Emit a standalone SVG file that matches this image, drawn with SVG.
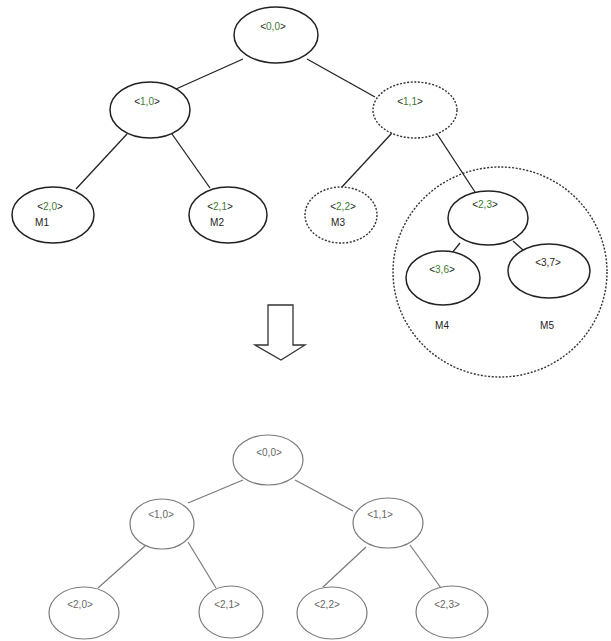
<svg xmlns="http://www.w3.org/2000/svg" width="611" height="641" viewBox="0 0 611 641">
<style>
.n{fill:#fff;stroke:#222;stroke-width:1.5}
.d{fill:#fff;stroke:#333;stroke-width:1.4;stroke-dasharray:2,1.6}
.g{fill:#fff;stroke:#7a7a7a;stroke-width:1.2}
.e{stroke:#222;stroke-width:1.3;fill:none}
.eg{stroke:#7a7a7a;stroke-width:1.2;fill:none}
.t{font-family:"Liberation Sans",Arial,sans-serif;font-size:10px;fill:#222;text-anchor:middle}
.tg{font-family:"Liberation Sans",Arial,sans-serif;font-size:10px;fill:#666;text-anchor:middle}
.c{fill:#3d7a2e}
</style>
<rect width="611" height="641" fill="#fff"/>
<g id="connectors">
<line class="e" x1="243" y1="59" x2="176" y2="89"/>
<line class="e" x1="307" y1="59" x2="375" y2="97"/>
<line class="e" x1="127" y1="134" x2="76" y2="189"/>
<line class="e" x1="172" y1="134" x2="210" y2="188"/>
<line class="e" x1="392" y1="133" x2="341" y2="188"/>
<line class="e" x1="437" y1="134" x2="475" y2="192"/>
<line class="e" x1="460" y1="243" x2="448" y2="258"/>
<line class="e" x1="513" y1="241" x2="523" y2="250"/>
<line class="eg" x1="243" y1="480" x2="188" y2="503"/>
<line class="eg" x1="295" y1="480" x2="353" y2="511"/>
<line class="eg" x1="145" y1="546" x2="98" y2="588"/>
<line class="eg" x1="188" y1="542" x2="216" y2="588"/>
<line class="eg" x1="366" y1="547" x2="323" y2="587"/>
<line class="eg" x1="410" y1="545" x2="441" y2="588"/>
</g>
<g id="group-m4-m5">
<ellipse class="d" cx="500" cy="272" rx="107" ry="105" fill="none" style="fill:none"/>
</g>
<g id="t00">
<ellipse class="n" cx="276" cy="35" rx="42" ry="28"/>
<text class="t" x="273" y="30">&lt;<tspan class="c">0,0</tspan>&gt;</text>
</g>
<g id="t10">
<ellipse class="n" cx="150" cy="110" rx="40" ry="28"/>
<text class="t" x="147" y="105">&lt;<tspan class="c">1,0</tspan>&gt;</text>
</g>
<g id="t11">
<ellipse class="d" cx="415" cy="110" rx="42" ry="28"/>
<text class="t" x="410" y="105">&lt;<tspan class="c">1,1</tspan>&gt;</text>
</g>
<g id="t20">
<ellipse class="n" cx="53" cy="215" rx="41" ry="28"/>
<text class="t" x="50" y="210">&lt;<tspan class="c">2,0</tspan>&gt;</text>
<text class="t" x="42" y="226">M1</text>
</g>
<g id="t21">
<ellipse class="n" cx="228" cy="215" rx="39" ry="28"/>
<text class="t" x="220" y="210">&lt;<tspan class="c">2,1</tspan>&gt;</text>
<text class="t" x="217" y="226">M2</text>
</g>
<g id="t22">
<ellipse class="d" cx="341" cy="215" rx="36" ry="28"/>
<text class="t" x="343" y="210">&lt;<tspan class="c">2,2</tspan>&gt;</text>
<text class="t" x="338" y="226">M3</text>
</g>
<g id="t23">
<ellipse class="n" cx="488" cy="218" rx="40" ry="27"/>
<text class="t" x="485" y="208">&lt;<tspan class="c">2,3</tspan>&gt;</text>
</g>
<g id="t36">
<ellipse class="n" cx="443" cy="278" rx="37" ry="27"/>
<text class="t" x="442" y="273">&lt;<tspan class="c">3,6</tspan>&gt;</text>
<text class="t" x="442" y="329">M4</text>
</g>
<g id="t37">
<ellipse class="n" cx="549" cy="271" rx="41" ry="27"/>
<text class="t" x="548" y="266">&lt;3,7&gt;</text>
<text class="t" x="547" y="329">M5</text>
</g>
<g id="arrow">
<path d="M268,305 H293 V345 H305 L281,360 L255,345 H268 Z" fill="#fff" stroke="#333" stroke-width="1.3"/>
</g>
<g id="b00">
<ellipse class="g" cx="268" cy="460" rx="35" ry="25"/>
<text class="tg" x="269" y="456">&lt;0,0&gt;</text>
</g>
<g id="b10">
<ellipse class="g" cx="162" cy="524" rx="32" ry="25"/>
<text class="tg" x="161" y="518">&lt;1,0&gt;</text>
</g>
<g id="b11">
<ellipse class="g" cx="388" cy="523" rx="35" ry="25"/>
<text class="tg" x="380" y="518">&lt;1,1&gt;</text>
</g>
<g id="b20">
<ellipse class="g" cx="84" cy="613" rx="35" ry="26"/>
<text class="tg" x="80" y="608">&lt;2,0&gt;</text>
</g>
<g id="b21">
<ellipse class="g" cx="231" cy="612" rx="32" ry="26"/>
<text class="tg" x="227" y="608">&lt;2,1&gt;</text>
</g>
<g id="b22">
<ellipse class="g" cx="332" cy="613" rx="35" ry="26"/>
<text class="tg" x="327" y="608">&lt;2,2&gt;</text>
</g>
<g id="b23">
<ellipse class="g" cx="452" cy="612" rx="36" ry="26"/>
<text class="tg" x="447" y="608">&lt;2,3&gt;</text>
</g>
</svg>
